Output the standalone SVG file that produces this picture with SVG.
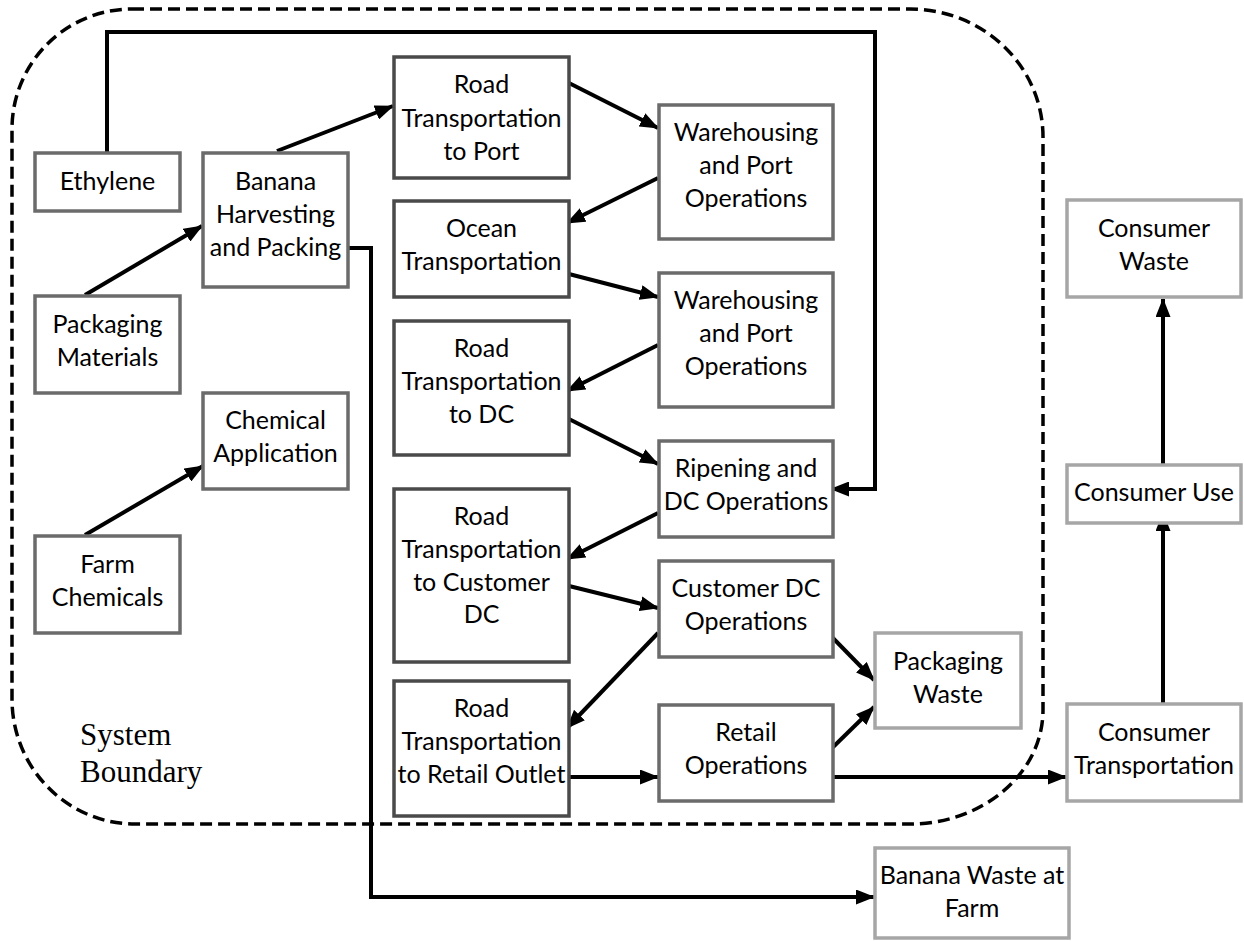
<svg xmlns="http://www.w3.org/2000/svg" width="1244" height="941" viewBox="0 0 1244 941">
  <style>
    .box { fill: #ffffff; stroke: #6b6b6b; stroke-width: 3.5; }
    .mid { stroke: #4a4a4a; }
    .ext { stroke: #a6a6a6; }
    .lbl { font-family: Lato, "Liberation Sans", sans-serif; font-size: 25px; fill: #000; text-anchor: middle; }
    .conn { fill: none; stroke: #000; stroke-width: 4; }
    .boundary { fill: none; stroke: #000; stroke-width: 3.5; stroke-dasharray: 12 6; }
    .note { font-family: "Liberation Serif", serif; font-size: 31px; fill: #000; }
  </style>
  <defs>
    <marker id="arrow" markerUnits="userSpaceOnUse" viewBox="0 0 19 15" markerWidth="19" markerHeight="15" refX="18" refY="7.5" orient="auto">
      <path d="M0,0 L19,7.5 L0,15 z" fill="#000"/>
    </marker>
  </defs>

  <rect width="1244" height="941" fill="#ffffff"/>

  <!-- system boundary -->
  <g id="system-boundary">
    <path class="boundary" d="M132,9 H910 A133,128 0 0 1 1043,137 V710 A133,114 0 0 1 910,824 H135 A123,125 0 0 1 12,699 V129 A120,120 0 0 1 132,9 Z"/>
    <text class="note" x="80" y="745">System</text>
    <text class="note" x="80" y="782">Boundary</text>
  </g>

  <!-- connectors -->
  <g id="connectors">
    <!-- ethylene feed to ripening -->
    <polyline class="conn" points="107,153 107,32 875,32 875,489 831,489" marker-end="url(#arrow)"/>
    <!-- farm waste -->
    <polyline class="conn" points="348,248 371,248 371,897 874,897" marker-end="url(#arrow)"/>
    <line class="conn" x1="85" y1="295" x2="202" y2="226" marker-end="url(#arrow)"/>
    <line class="conn" x1="85" y1="535" x2="203" y2="466" marker-end="url(#arrow)"/>
    <line class="conn" x1="277" y1="151" x2="393" y2="106" marker-end="url(#arrow)"/>
    <line class="conn" x1="565" y1="81" x2="658" y2="128" marker-end="url(#arrow)"/>
    <line class="conn" x1="658" y1="178" x2="567" y2="223" marker-end="url(#arrow)"/>
    <line class="conn" x1="565" y1="273" x2="658" y2="297" marker-end="url(#arrow)"/>
    <line class="conn" x1="658" y1="345" x2="567" y2="391" marker-end="url(#arrow)"/>
    <line class="conn" x1="565" y1="417" x2="658" y2="464" marker-end="url(#arrow)"/>
    <line class="conn" x1="658" y1="513" x2="567" y2="559" marker-end="url(#arrow)"/>
    <line class="conn" x1="565" y1="585" x2="658" y2="608" marker-end="url(#arrow)"/>
    <line class="conn" x1="658" y1="633" x2="567" y2="728" marker-end="url(#arrow)"/>
    <line class="conn" x1="565" y1="777" x2="658" y2="777" marker-end="url(#arrow)"/>
    <line class="conn" x1="828" y1="633" x2="874" y2="680" marker-end="url(#arrow)"/>
    <line class="conn" x1="828" y1="752" x2="874" y2="707" marker-end="url(#arrow)"/>
    <line class="conn" x1="828" y1="777" x2="1066" y2="777" marker-end="url(#arrow)"/>
    <line class="conn" x1="1163" y1="704" x2="1163" y2="513" marker-end="url(#arrow)"/>
    <line class="conn" x1="1163" y1="465" x2="1163" y2="299" marker-end="url(#arrow)"/>
  </g>

  <!-- inputs -->
  <g id="ethylene">
    <rect class="box" x="35" y="153" width="145" height="58"/>
    <text class="lbl" x="107.5" y="190">Ethylene</text>
  </g>
  <g id="packaging-materials">
    <rect class="box" x="35" y="296" width="145" height="97"/>
    <text class="lbl" x="107.5" y="333">Packaging</text>
    <text class="lbl" x="107.5" y="366">Materials</text>
  </g>
  <g id="farm-chemicals">
    <rect class="box" x="35" y="536" width="145" height="97"/>
    <text class="lbl" x="107.5" y="573">Farm</text>
    <text class="lbl" x="107.5" y="606">Chemicals</text>
  </g>
  <g id="banana-harvesting">
    <rect class="box" x="203" y="153" width="145" height="134"/>
    <text class="lbl" x="275.5" y="190">Banana</text>
    <text class="lbl" x="275.5" y="223">Harvesting</text>
    <text class="lbl" x="275.5" y="256">and Packing</text>
  </g>
  <g id="chemical-application">
    <rect class="box" x="203" y="393" width="145" height="96"/>
    <text class="lbl" x="275.5" y="429">Chemical</text>
    <text class="lbl" x="275.5" y="462">Application</text>
  </g>

  <!-- transport column -->
  <g id="road-to-port">
    <rect class="box mid" x="394" y="57" width="175" height="121"/>
    <text class="lbl" x="481.5" y="93">Road</text>
    <text class="lbl" x="481.5" y="127">Transportation</text>
    <text class="lbl" x="481.5" y="160">to Port</text>
  </g>
  <g id="ocean-transportation">
    <rect class="box mid" x="394" y="201" width="175" height="96"/>
    <text class="lbl" x="481.5" y="237">Ocean</text>
    <text class="lbl" x="481.5" y="270">Transportation</text>
  </g>
  <g id="road-to-dc">
    <rect class="box mid" x="394" y="321" width="175" height="134"/>
    <text class="lbl" x="481.5" y="357">Road</text>
    <text class="lbl" x="481.5" y="390">Transportation</text>
    <text class="lbl" x="481.5" y="423">to DC</text>
  </g>
  <g id="road-to-customer-dc">
    <rect class="box mid" x="394" y="489" width="175" height="173"/>
    <text class="lbl" x="481.5" y="525">Road</text>
    <text class="lbl" x="481.5" y="558">Transportation</text>
    <text class="lbl" x="481.5" y="591">to Customer</text>
    <text class="lbl" x="481.5" y="623">DC</text>
  </g>
  <g id="road-to-retail">
    <rect class="box mid" x="394" y="681" width="175" height="135"/>
    <text class="lbl" x="481.5" y="717">Road</text>
    <text class="lbl" x="481.5" y="750">Transportation</text>
    <text class="lbl" x="481.5" y="783">to Retail Outlet</text>
  </g>

  <!-- operations column -->
  <g id="warehousing-1">
    <rect class="box" x="659" y="105" width="174" height="134"/>
    <text class="lbl" x="746" y="141">Warehousing</text>
    <text class="lbl" x="746" y="174">and Port</text>
    <text class="lbl" x="746" y="207">Operations</text>
  </g>
  <g id="warehousing-2">
    <rect class="box" x="659" y="273" width="174" height="134"/>
    <text class="lbl" x="746" y="309">Warehousing</text>
    <text class="lbl" x="746" y="342">and Port</text>
    <text class="lbl" x="746" y="375">Operations</text>
  </g>
  <g id="ripening">
    <rect class="box" x="659" y="441" width="174" height="96"/>
    <text class="lbl" x="746" y="477">Ripening and</text>
    <text class="lbl" x="746" y="510">DC Operations</text>
  </g>
  <g id="customer-dc">
    <rect class="box" x="659" y="561" width="174" height="96"/>
    <text class="lbl" x="746" y="597">Customer DC</text>
    <text class="lbl" x="746" y="630">Operations</text>
  </g>
  <g id="retail-operations">
    <rect class="box" x="659" y="705" width="174" height="96"/>
    <text class="lbl" x="746" y="741">Retail</text>
    <text class="lbl" x="746" y="774">Operations</text>
  </g>

  <!-- outside the boundary -->
  <g id="packaging-waste">
    <rect class="box ext" x="875" y="633" width="146" height="95"/>
    <text class="lbl" x="948" y="670">Packaging</text>
    <text class="lbl" x="948" y="703">Waste</text>
  </g>
  <g id="consumer-transportation">
    <rect class="box ext" x="1067" y="704" width="174" height="97"/>
    <text class="lbl" x="1154" y="741">Consumer</text>
    <text class="lbl" x="1154" y="774">Transportation</text>
  </g>
  <g id="consumer-use">
    <rect class="box ext" x="1067" y="465" width="174" height="58"/>
    <text class="lbl" x="1154" y="501">Consumer Use</text>
  </g>
  <g id="consumer-waste">
    <rect class="box ext" x="1067" y="200" width="174" height="97"/>
    <text class="lbl" x="1154" y="237">Consumer</text>
    <text class="lbl" x="1154" y="270">Waste</text>
  </g>
  <g id="banana-waste">
    <rect class="box ext" x="875" y="848" width="194" height="90"/>
    <text class="lbl" x="972" y="884">Banana Waste at</text>
    <text class="lbl" x="972" y="917">Farm</text>
  </g>
</svg>
